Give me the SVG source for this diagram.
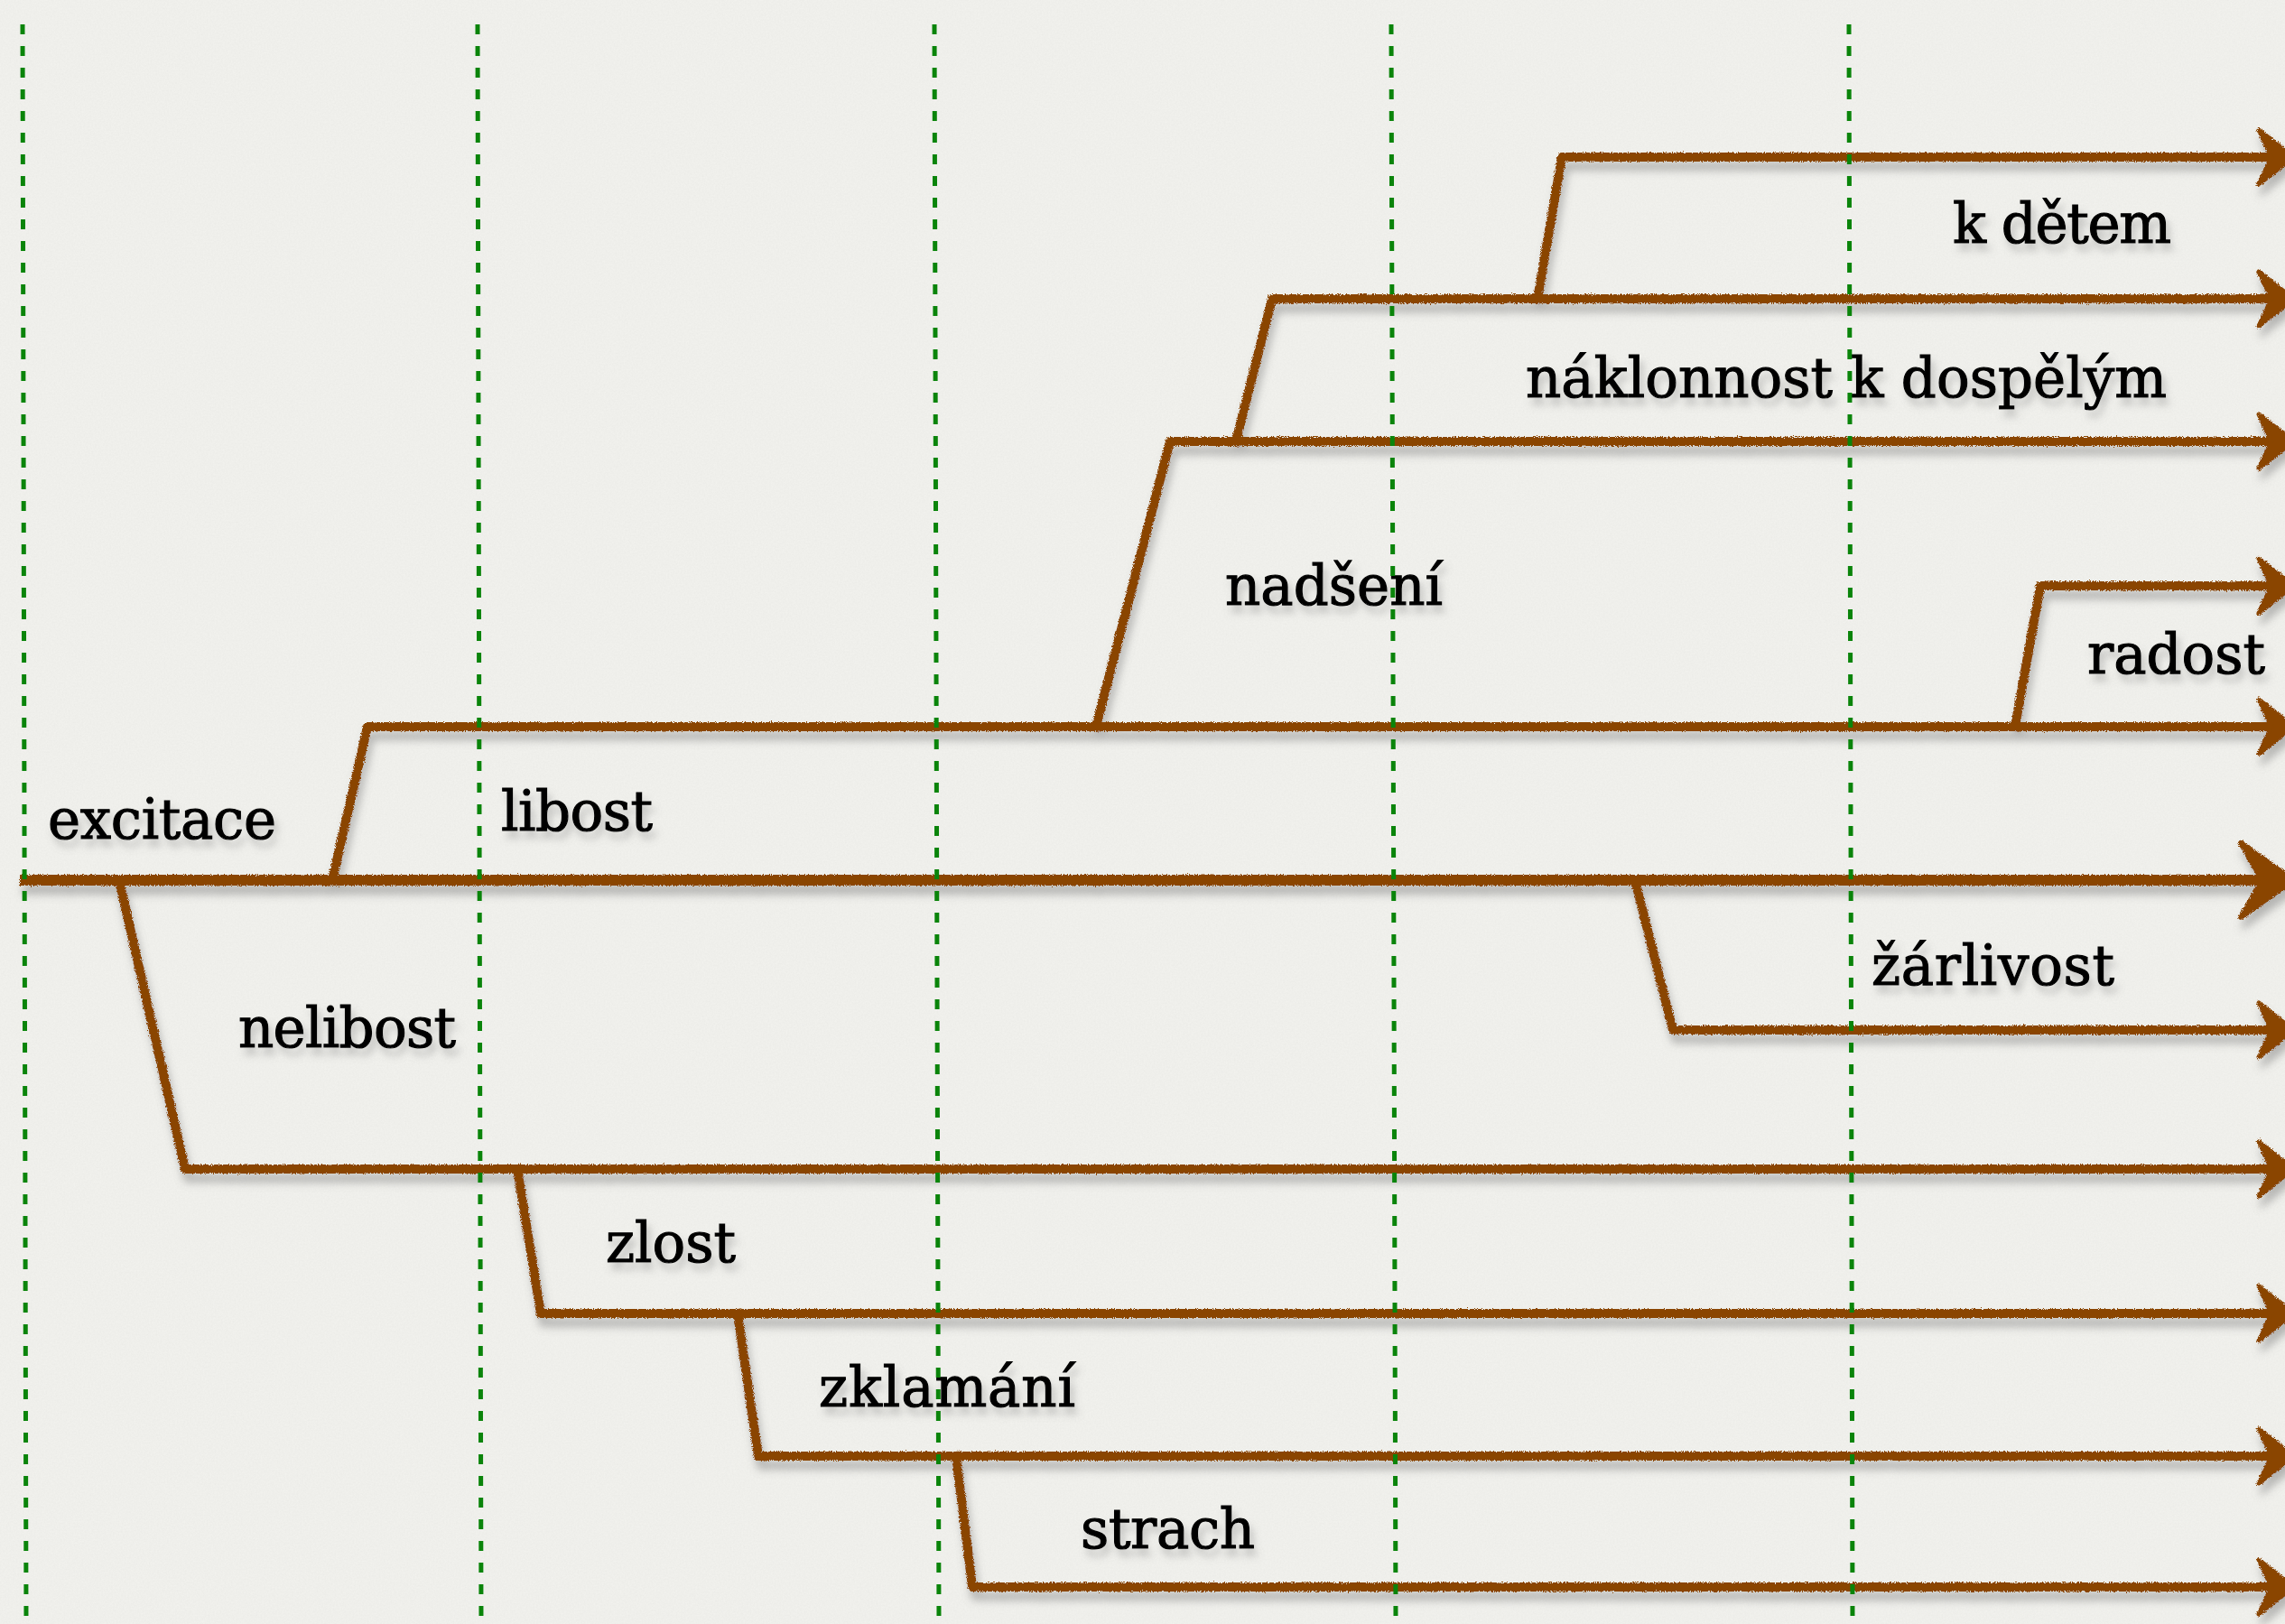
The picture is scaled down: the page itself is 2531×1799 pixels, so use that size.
<svg xmlns="http://www.w3.org/2000/svg" width="2531" height="1799" viewBox="0 0 2531 1799">
<style>
.lbl{font-family:"DejaVu Serif","Liberation Serif",serif;font-size:61px;fill:#000;stroke:#000;stroke-width:1.2;filter:url(#tshadow)}
.br{fill:none;stroke:#8a4500;stroke-width:10;stroke-linejoin:round;stroke-linecap:square;marker-end:url(#arr)}
.main{stroke-width:12;marker-end:url(#arrMain)}
.guide{stroke:#0a840a;stroke-width:5;stroke-dasharray:11 13;fill:none}
</style>
<defs>
<filter id="paper" x="0" y="0" width="100%" height="100%">
<feTurbulence type="fractalNoise" baseFrequency="0.55" numOctaves="3" seed="4"/>
<feColorMatrix type="matrix" values="0 0 0 0 0.5  0 0 0 0 0.5  0 0 0 0 0.48  0.14 0 0 0 -0.03"/>
</filter>
<filter id="rough" x="-2%" y="-10%" width="104%" height="130%">
<feTurbulence type="fractalNoise" baseFrequency="0.9" numOctaves="2" seed="7" result="n"/>
<feDisplacementMap in="SourceGraphic" in2="n" scale="5" xChannelSelector="R" yChannelSelector="G" result="d"/>
<feGaussianBlur in="d" stdDeviation="5" result="b"/>
<feOffset in="b" dx="3" dy="10" result="o"/>
<feColorMatrix in="o" type="matrix" values="0 0 0 0 0.2  0 0 0 0 0.2  0 0 0 0 0.2  0 0 0 0.5 0" result="s"/>
<feMerge><feMergeNode in="s"/><feMergeNode in="d"/></feMerge>
</filter>
<filter id="tshadow" x="-10%" y="-30%" width="120%" height="170%">
<feGaussianBlur in="SourceAlpha" stdDeviation="4"/>
<feOffset dx="4" dy="8" result="o"/>
<feColorMatrix in="o" type="matrix" values="0 0 0 0 0.2  0 0 0 0 0.2  0 0 0 0 0.2  0 0 0 0.4 0" result="s"/>
<feMerge><feMergeNode in="s"/><feMergeNode in="SourceGraphic"/></feMerge>
</filter>
<marker id="arr" markerUnits="userSpaceOnUse" refX="0" refY="0" markerWidth="80" markerHeight="90" orient="auto" overflow="visible">
<path d="M30,0 L-8,-30 L6,0 L-8,30 Z" fill="#8a4500" stroke="#8a4500" stroke-width="5" stroke-linejoin="round"/>
</marker>
<marker id="arrMain" markerUnits="userSpaceOnUse" refX="0" refY="0" markerWidth="100" markerHeight="110" orient="auto" overflow="visible">
<path d="M42,0 L-16,-41 L8,0 L-16,41 Z" fill="#8a4500" stroke="#8a4500" stroke-width="6" stroke-linejoin="round"/>
</marker>
</defs>
<rect width="2531" height="1799" fill="#f1f1ed"/>
<rect width="2531" height="1799" filter="url(#paper)"/>

<g id="connectors" filter="url(#rough)">
<path class="br main" d="M28,975 H2498"/>
<path class="br" d="M368,975 L407,805 H2510"/>
<path class="br" d="M1214,805 L1296,489 H2510"/>
<path class="br" d="M1369,489 L1409,331 H2510"/>
<path class="br" d="M1703,331 L1730,174 H2510"/>
<path class="br" d="M2232,805 L2260,649 H2510"/>
<path class="br" d="M1811,975 L1853,1141 H2510"/>
<path class="br" d="M132,975 L205,1295 H2510"/>
<path class="br" d="M573,1295 L599,1455 H2510"/>
<path class="br" d="M817,1455 L840,1613 H2510"/>
<path class="br" d="M1059,1613 L1077,1758 H2510"/>
</g>

<g id="excitace"><text class="lbl" x="53" y="929" textLength="253" lengthAdjust="spacing">excitace</text></g>
<g id="libost"><text class="lbl" x="555" y="920" textLength="168" lengthAdjust="spacing">libost</text></g>
<g id="nadseni"><text class="lbl" x="1357" y="670" textLength="241" lengthAdjust="spacing">nadšení</text></g>
<g id="naklonnost"><text class="lbl" x="1690" y="440" textLength="710" lengthAdjust="spacing">náklonnost k dospělým</text></g>
<g id="k-detem"><text class="lbl" x="2163" y="269" textLength="242" lengthAdjust="spacing">k dětem</text></g>
<g id="radost"><text class="lbl" x="2312" y="746" textLength="197" lengthAdjust="spacing">radost</text></g>
<g id="zarlivost"><text class="lbl" x="2073" y="1091" textLength="269" lengthAdjust="spacing">žárlivost</text></g>
<g id="nelibost"><text class="lbl" x="264" y="1160" textLength="241" lengthAdjust="spacing">nelibost</text></g>
<g id="zlost"><text class="lbl" x="671" y="1398" textLength="144" lengthAdjust="spacing">zlost</text></g>
<g id="zklamani"><text class="lbl" x="907" y="1558" textLength="284" lengthAdjust="spacing">zklamání</text></g>
<g id="strach"><text class="lbl" x="1197" y="1715" textLength="193" lengthAdjust="spacing">strach</text></g>

<g id="guides">
<line class="guide" x1="25" y1="27" x2="29" y2="1799"/>
<line class="guide" x1="529" y1="27" x2="533" y2="1799"/>
<line class="guide" x1="1035" y1="27" x2="1040" y2="1799"/>
<line class="guide" x1="1541" y1="27" x2="1546" y2="1799"/>
<line class="guide" x1="2048" y1="27" x2="2052" y2="1799"/>
</g>
</svg>
